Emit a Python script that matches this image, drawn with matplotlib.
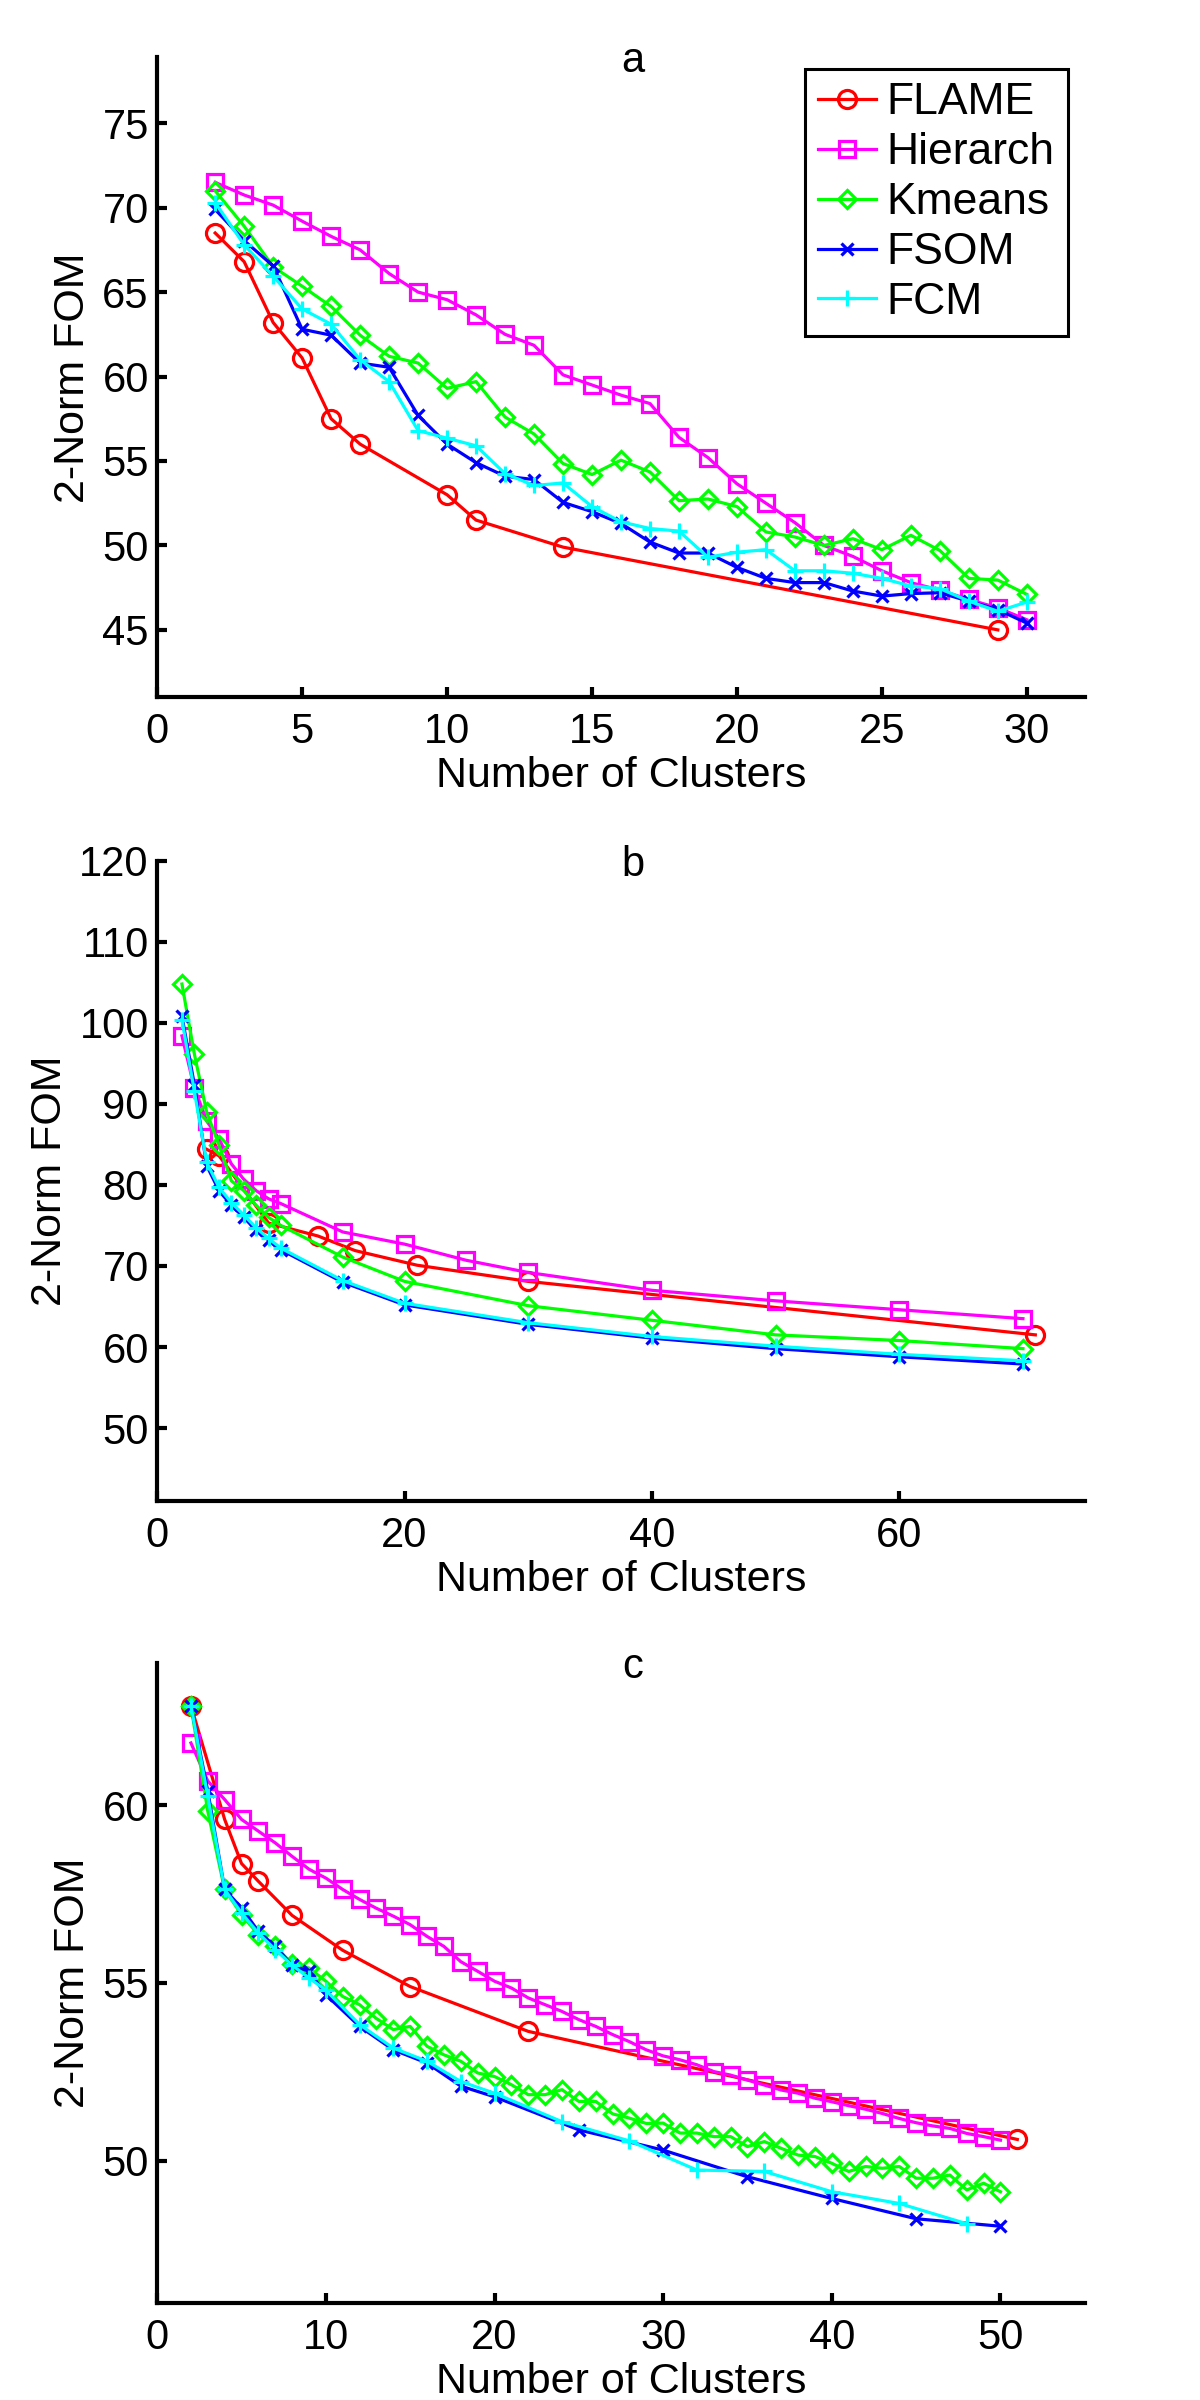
import numpy as np
import matplotlib
matplotlib.use("Agg")
import matplotlib.pyplot as plt

plt.rcParams['font.family'] = ['Liberation Sans', 'DejaVu Sans']

# ---- panel a ----
a_x = list(range(2, 31))
a_flame_x = [2, 3, 4, 5, 6, 7, 10, 11, 14, 29]
a_flame = [68.5, 66.8, 63.2, 61.1, 57.5, 56.0, 53.0, 51.5, 49.9, 45.0]
a_hier = [71.5, 70.75, 70.15, 69.2, 68.3, 67.5, 66.1, 65.0, 64.55, 63.65, 62.5, 61.85,
          60.1, 59.5, 58.9, 58.4, 56.4, 55.2, 53.65, 52.5, 51.35, 50.0, 49.35, 48.5,
          47.8, 47.35, 46.8, 46.3, 45.6]
a_kmeans = [71.0, 68.9, 66.5, 65.35, 64.15, 62.45, 61.2, 60.8, 59.3, 59.7, 57.6, 56.6,
            54.85, 54.2, 55.05, 54.35, 52.65, 52.75, 52.3, 50.8, 50.5, 50.0, 50.4, 49.75,
            50.6, 49.7, 48.05, 47.95, 47.1]
a_fsom = [69.9, 68.05, 66.55, 62.8, 62.45, 60.8, 60.55, 57.7, 56.0, 54.9, 54.1, 53.9,
          52.55, 52.0, 51.3, 50.2, 49.55, 49.55, 48.7, 48.05, 47.8, 47.8, 47.3, 47.0,
          47.15, 47.2, 46.7, 46.2, 45.4]
a_fcm = [70.3, 67.8, 65.95, 64.0, 63.1, 61.0, 59.7, 56.8, 56.35, 55.9, 54.25, 53.55,
         53.7, 52.3, 51.4, 51.0, 50.85, 49.3, 49.6, 49.75, 48.5, 48.5, 48.35, 48.05,
         47.6, 47.45, 46.7, 46.1, 46.65]

# ---- panel b ----
b_flame_x = [4, 5, 9, 13, 16, 21, 30, 71]
b_flame = [84.4, 83.6, 75.3, 73.7, 71.9, 70.1, 68.1, 61.5]
b_hier_x = [2, 3, 4, 5, 6, 7, 8, 9, 10, 15, 20, 25, 30, 40, 50, 60, 70]
b_hier = [98.4, 92.0, 87.9, 85.7, 82.6, 80.7, 79.3, 78.3, 77.7, 74.2, 72.7, 70.7, 69.2,
          67.0, 65.7, 64.6, 63.5]
b_x = [2, 3, 4, 5, 6, 7, 8, 9, 10, 15, 20, 30, 40, 50, 60, 70]
b_kmeans = [104.8, 96.2, 89.0, 84.9, 80.5, 79.3, 77.5, 76.0, 75.0, 71.1, 68.1, 65.1,
            63.3, 61.5, 60.8, 59.8]
b_fsom = [100.8, 92.4, 82.4, 79.3, 77.5, 76.0, 74.4, 73.2, 72.0, 68.0, 65.2, 62.8,
          61.1, 59.8, 58.8, 57.9]
b_fcm = [100.4, 91.6, 82.8, 79.7, 77.8, 76.3, 74.7, 73.4, 72.2, 68.2, 65.4, 63.0,
         61.3, 60.1, 59.1, 58.3]

# ---- panel c ----
c_x = list(range(2, 51))
c_flame_x = [2, 4, 5, 6, 8, 11, 15, 22, 51]
c_flame = [62.8, 59.6, 58.36, 57.86, 56.9, 55.92, 54.9, 53.64, 50.6]
c_hier = [61.75, 60.68, 60.16, 59.6, 59.27, 58.94, 58.56, 58.2, 57.95, 57.63, 57.35,
          57.1, 56.88, 56.64, 56.31, 56.03, 55.6, 55.33, 55.05, 54.86, 54.58, 54.39,
          54.2, 53.97, 53.78, 53.55, 53.35, 53.12, 52.95, 52.84, 52.7, 52.51, 52.41,
          52.27, 52.13, 51.99, 51.9, 51.76, 51.66, 51.55, 51.45, 51.33, 51.19, 51.07,
          50.98, 50.91, 50.77, 50.68, 50.58]
c_kmeans = [62.8, 59.83, 57.63, 56.92, 56.36, 56.03, 55.54, 55.42, 55.05, 54.62, 54.39,
            54.0, 53.69, 53.78, 53.22, 52.98, 52.8, 52.47, 52.37, 52.14, 51.86, 51.86,
            52.0, 51.67, 51.67, 51.32, 51.2, 51.05, 51.06, 50.78, 50.78, 50.68, 50.68,
            50.4, 50.54, 50.35, 50.16, 50.12, 49.93, 49.7, 49.84, 49.79, 49.84, 49.51,
            49.51, 49.6, 49.18, 49.37, 49.13]
c_fsom_x = [2, 3, 4, 5, 6, 7, 8, 9, 10, 12, 14, 16, 18, 20, 25, 30, 35, 40, 45, 50]
c_fsom = [62.8, 60.39, 57.63, 57.11, 56.45, 56.03, 55.5, 55.33, 54.67, 53.78, 53.12,
          52.75, 52.1, 51.8, 50.87, 50.3, 49.55, 48.94, 48.37, 48.16]
c_fcm_x = [2, 3, 4, 5, 6, 7, 8, 9, 10, 12, 14, 16, 18, 20, 24, 28, 32, 36, 40, 44, 48]
c_fcm = [62.8, 60.25, 57.63, 56.97, 56.4, 55.94, 55.5, 55.14, 54.8, 53.83, 53.17,
         52.8, 52.23, 51.9, 51.1, 50.56, 49.74, 49.7, 49.13, 48.8, 48.23]

names = ["FLAME", "Hierarch", "Kmeans", "FSOM", "FCM"]
colors = ["#ff0000", "#ff00ff", "#00ff00", "#0000ff", "#00ffff"]
markers = ["o", "s", "D", "x", "+"]
msizes = [13, 11.5, 9.5, 9, 11]

FS = 30
LW = 2.3

panels = [
    ("a", [(a_flame_x, a_flame), (a_x, a_hier), (a_x, a_kmeans), (a_x, a_fsom), (a_x, a_fcm)],
     (0, 32), (41, 78.9), [0, 5, 10, 15, 20, 25, 30], [45, 50, 55, 60, 65, 70, 75], 0.7094),
    ("b", [(b_flame_x, b_flame), (b_hier_x, b_hier), (b_x, b_kmeans), (b_x, b_fsom), (b_x, b_fcm)],
     (0, 75), (41, 120), [0, 20, 40, 60], [50, 60, 70, 80, 90, 100, 110, 120], 0.3746),
    ("c", [(c_flame_x, c_flame), (c_x, c_hier), (c_x, c_kmeans), (c_fsom_x, c_fsom), (c_fcm_x, c_fcm)],
     (0, 55), (46, 64), [0, 10, 20, 30, 40, 50], [50, 55, 60], 0.0404),
]

fig = plt.figure(figsize=(12, 24), dpi=100)

for letter, series, xlim, ylim, xt, yt, bottom in panels:
    ax = fig.add_axes([0.131, bottom, 0.773, 0.2667])
    for (xs, ys), name, c, m, ms in zip(series, names, colors, markers, msizes):
        ax.plot(xs, ys, color=c, marker=m, markersize=ms, markerfacecolor="none",
                markeredgecolor=c, markeredgewidth=LW, linewidth=LW, label=name)
    ax.set_xlim(*xlim)
    ax.set_ylim(*ylim)
    ax.set_xticks(xt)
    ax.set_yticks(yt)
    for s in ["top", "right"]:
        ax.spines[s].set_visible(False)
    for s in ["left", "bottom"]:
        ax.spines[s].set_linewidth(3)
    ax.tick_params(direction="in", length=7, width=3, labelsize=FS)
    ax.tick_params(axis="x", pad=10.5)
    ax.tick_params(axis="y", pad=6)
    ax.set_xlabel("Number of Clusters", fontsize=31, labelpad=3)
    ax.set_ylabel("2-Norm FOM", fontsize=31, labelpad=6.5)
    ax.text(0.513, 0.977, letter, transform=ax.transAxes, ha="center", va="baseline",
            fontsize=FS)
    if letter == "a":
        leg = ax.legend(loc="upper right", bbox_to_anchor=(0.982, 0.9816), borderaxespad=0,
                        fontsize=32, handlelength=1.3, handletextpad=0.25, borderpad=0.3,
                        labelspacing=0.2, fancybox=False, framealpha=1, edgecolor="black")
        leg.get_frame().set_linewidth(2.2)

fig.savefig("out.png", dpi=100)
